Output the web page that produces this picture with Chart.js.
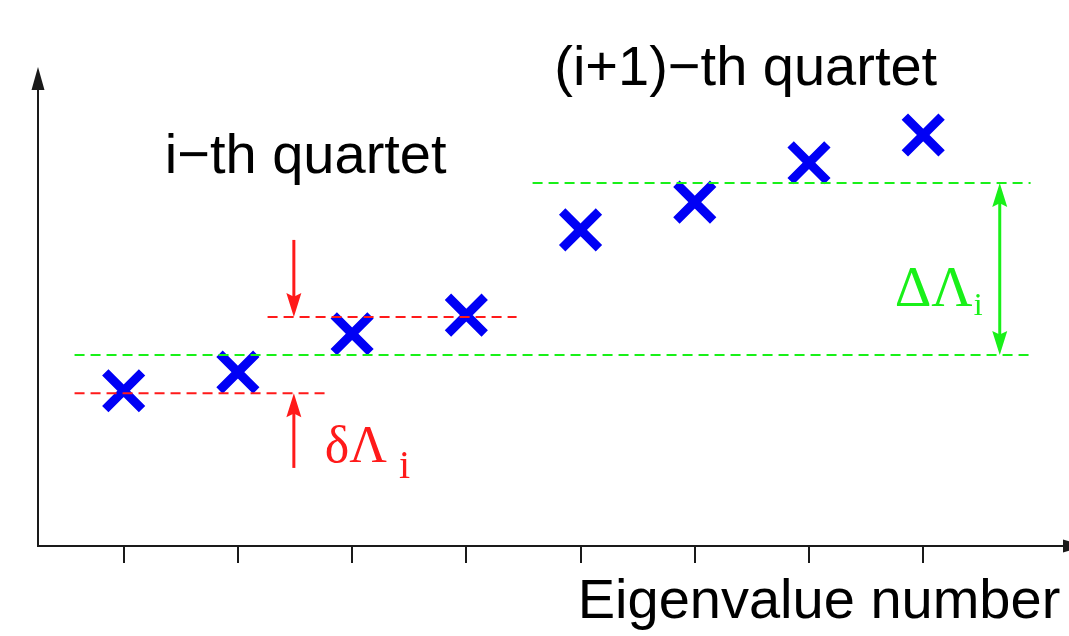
<!DOCTYPE html>
<html>
<head>
<meta charset="utf-8">
<script src="https://cdn.jsdelivr.net/npm/chart.js@4/dist/chart.umd.min.js"></script>
<style>
  html, body { margin: 0; padding: 0; background: #fff; }
  #wrap { width: 1069px; height: 636px; }
</style>
</head>
<body>
<div id="wrap"><canvas id="c"></canvas></div>
<script>
// Eigenvalue numbers and the corresponding eigenvalues (two quartets)
const eigenIndex = [1, 2, 3, 4, 5, 6, 7, 8];
const eigenValues = [3.24, 3.63, 4.43, 4.82, 6.60, 7.18, 8.00, 8.58];
const xTicks = [1, 2, 3, 4, 5, 6, 7, 8];

// Reference levels: [level, from, to]
const innerLow = [3.19, 0.57, 2.76];
const innerHigh = [4.78, 2.26, 4.44];
const quartetLevel = [3.99, 0.57, 8.94];
const nextQuartetLevel = [7.58, 4.58, 8.94];

// Arrow positions: [x, from, to]
const innerArrowDown = [2.49, 6.39, 4.78];
const innerArrowUp = [2.49, 1.63, 3.19];
const gapArrow = [8.67, 3.99, 7.58];

const RED = '#ff1a1a';
const GREEN = '#19f019';
const BLUE = '#0000f5';
const AXIS = '#1a1a1a';

function levelData(l) {
  return [{ x: l[1], y: l[0] }, { x: l[2], y: l[0] }];
}
function levelSet(l, color) {
  return {
    type: 'line', data: levelData(l), borderColor: color, borderWidth: 2,
    borderDash: [10, 6], pointRadius: 0, fill: false, order: 0
  };
}

function arrowHead(ctx, x, y, dir, len, w, color) {
  ctx.fillStyle = color;
  ctx.beginPath();
  ctx.moveTo(x, y);
  ctx.lineTo(x - w / 2, y - dir * len);
  ctx.lineTo(x, y - dir * len * 0.85);
  ctx.lineTo(x + w / 2, y - dir * len);
  ctx.closePath();
  ctx.fill();
}

const overlay = {
  id: 'overlay',
  afterDatasetsDraw(chart) {
    const { ctx, chartArea: a, scales: { x, y } } = chart;
    ctx.save();

    // axes with arrow heads
    ctx.strokeStyle = AXIS;
    ctx.lineWidth = 2;
    ctx.beginPath();
    ctx.moveTo(a.left, a.top + 10);
    ctx.lineTo(a.left, a.bottom);
    ctx.lineTo(chart.width, a.bottom);
    ctx.stroke();
    ctx.fillStyle = AXIS;
    ctx.beginPath();
    ctx.moveTo(a.left, a.top);
    ctx.lineTo(a.left - 6.5, a.top + 23);
    ctx.lineTo(a.left + 6.5, a.top + 23);
    ctx.closePath();
    ctx.fill();
    ctx.beginPath();
    ctx.moveTo(a.right + 5, a.bottom - 6.5);
    ctx.lineTo(a.right + 28, a.bottom);
    ctx.lineTo(a.right + 5, a.bottom + 6.5);
    ctx.closePath();
    ctx.fill();

    // vertical arrows
    function vArrow(spec, color, both) {
      const px = x.getPixelForValue(spec[0]);
      const p1 = y.getPixelForValue(spec[1]);
      const p2 = y.getPixelForValue(spec[2]);
      const dir = p2 > p1 ? 1 : -1;
      ctx.strokeStyle = color;
      ctx.lineWidth = 3;
      ctx.beginPath();
      ctx.moveTo(px, both ? p1 + dir * 18 : p1);
      ctx.lineTo(px, p2 - dir * 18);
      ctx.stroke();
      arrowHead(ctx, px, p2, dir, 24, 15, color);
      if (both) arrowHead(ctx, px, p1, -dir, 24, 15, color);
    }
    vArrow(innerArrowDown, RED, false);
    vArrow(innerArrowUp, RED, false);
    vArrow(gapArrow, GREEN, true);

    // labels
    ctx.textBaseline = 'alphabetic';
    ctx.fillStyle = '#000';
    ctx.font = '56px "Liberation Sans", Arial, sans-serif';
    ctx.textAlign = 'left';
    ctx.fillText('i\u2212th quartet', x.getPixelForValue(1.36), y.getPixelForValue(7.79));
    ctx.fillText('(i+1)\u2212th quartet', x.getPixelForValue(4.77), y.getPixelForValue(9.62));
    ctx.textAlign = 'right';
    ctx.fillText('Eigenvalue number', x.getPixelForValue(9.2), a.bottom + 72);

    ctx.textAlign = 'left';
    ctx.fillStyle = GREEN;
    ctx.font = '57px "Liberation Serif", "Times New Roman", serif';
    const gx = x.getPixelForValue(7.75), gy = y.getPixelForValue(5.01);
    ctx.fillText('\u0394\u039B', gx, gy);
    const gw = ctx.measureText('\u0394\u039B').width;
    ctx.font = '32px "Liberation Serif", "Times New Roman", serif';
    ctx.fillText('i', gx + gw + 1, gy + 9);

    ctx.fillStyle = RED;
    ctx.font = '52px "Liberation Serif", "Times New Roman", serif';
    const rx = x.getPixelForValue(2.76), ry = y.getPixelForValue(1.75);
    ctx.fillText('\u03B4\u039B', rx, ry);
    const rw = ctx.measureText('\u03B4\u039B').width;
    ctx.font = '40px "Liberation Serif", "Times New Roman", serif';
    ctx.fillText('i', rx + rw + 12, ry + 16);

    ctx.restore();
  }
};

new Chart(document.getElementById('c'), {
  type: 'scatter',
  data: {
    datasets: [
      levelSet(innerLow, RED),
      levelSet(innerHigh, RED),
      levelSet(quartetLevel, GREEN),
      levelSet(nextQuartetLevel, GREEN),
      {
        type: 'scatter',
        data: eigenIndex.map((v, i) => ({ x: v, y: eigenValues[i] })),
        pointStyle: 'crossRot',
        pointRadius: 26,
        pointBorderWidth: 9,
        borderColor: BLUE,
        backgroundColor: BLUE,
        order: 1
      }
    ]
  },
  options: {
    responsive: true,
    maintainAspectRatio: false,
    animation: false,
    events: [],
    layout: { autoPadding: false, padding: { left: 38, top: 67, right: 11, bottom: 73 } },
    plugins: { legend: { display: false }, tooltip: { enabled: false } },
    scales: {
      x: {
        type: 'linear',
        min: 0.25,
        max: 9.18,
        afterBuildTicks: s => { s.ticks = xTicks.map(v => ({ value: v })); },
        ticks: { display: false },
        border: { display: false },
        grid: {
          drawOnChartArea: false, drawTicks: true, tickLength: 17,
          color: AXIS, lineWidth: 2
        }
      },
      y: {
        type: 'linear',
        min: 0,
        max: 10,
        display: false
      }
    }
  },
  plugins: [overlay]
});
</script>
</body>
</html>
